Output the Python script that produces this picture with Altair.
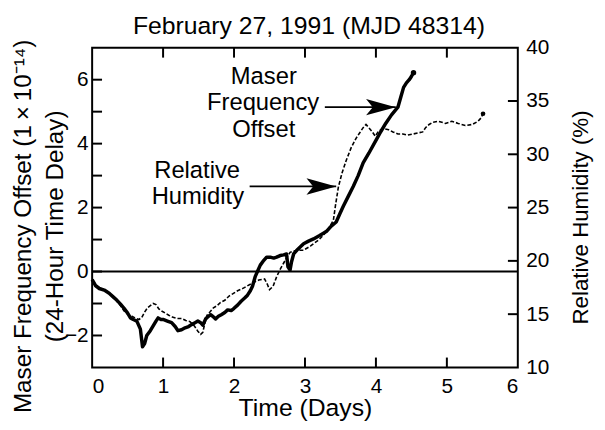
import altair as alt
import pandas as pd

# ---------------- data ----------------
maser_t = [0.00, 0.05, 0.10, 0.17, 0.24, 0.30, 0.35, 0.40, 0.45, 0.50, 0.54, 0.58, 0.63, 0.68,
           0.71, 0.74, 0.77, 0.82, 0.86, 0.90, 0.93, 0.97, 1.00, 1.06, 1.12, 1.17, 1.21, 1.26,
           1.31, 1.36, 1.40, 1.45, 1.49, 1.53, 1.56, 1.60, 1.64, 1.67, 1.71, 1.74, 1.78, 1.82,
           1.87, 1.91, 1.96, 2.00, 2.05, 2.10, 2.15, 2.19, 2.23, 2.26, 2.30, 2.33, 2.37, 2.42,
           2.46, 2.51, 2.56, 2.60, 2.65, 2.70, 2.74, 2.76, 2.79, 2.81, 2.84, 2.90, 2.98, 3.05,
           3.12, 3.20, 3.26, 3.31, 3.37, 3.44, 3.49, 3.54, 3.61, 3.68, 3.75, 3.82, 3.90, 4.00,
           4.07, 4.14, 4.22, 4.31, 4.35, 4.39, 4.43, 4.47, 4.50, 4.53]
maser_v = [-0.25, -0.45, -0.53, -0.58, -0.68, -0.80, -0.90, -1.02, -1.15, -1.30, -1.45, -1.50,
           -1.55, -1.80, -2.35, -2.25, -2.00, -1.85, -1.70, -1.55, -1.45, -1.50, -1.50, -1.55,
           -1.60, -1.72, -1.85, -1.82, -1.76, -1.72, -1.66, -1.60, -1.55, -1.60, -1.68, -1.48,
           -1.40, -1.35, -1.42, -1.48, -1.40, -1.35, -1.28, -1.20, -1.22, -1.15, -1.05, -0.93,
           -0.83, -0.74, -0.60, -0.46, -0.15, 0.00, 0.20, 0.35, 0.45, 0.45, 0.42, 0.45, 0.50,
           0.52, 0.55, 0.15, 0.05, 0.30, 0.55, 0.70, 0.87, 0.95, 1.02, 1.12, 1.20, 1.27, 1.42,
           1.55, 1.80, 2.04, 2.35, 2.66, 3.00, 3.40, 3.70, 4.10, 4.38, 4.64, 4.90, 5.14, 5.45,
           5.76, 5.90, 6.00, 6.10, 6.22]

hum_t = [0.00, 0.05, 0.10, 0.17, 0.24, 0.30, 0.35, 0.40, 0.45, 0.50, 0.56, 0.62, 0.66, 0.70,
         0.74, 0.78, 0.82, 0.86, 0.90, 0.94, 0.98, 1.03, 1.08, 1.14, 1.20, 1.26, 1.32, 1.38,
         1.44, 1.49, 1.53, 1.56, 1.59, 1.62, 1.66, 1.71, 1.76, 1.81, 1.87, 1.93, 1.98, 2.05,
         2.12, 2.20, 2.28, 2.35, 2.43, 2.47, 2.50, 2.55, 2.60, 2.65, 2.70, 2.75, 2.79, 2.88,
         2.98, 3.08, 3.20, 3.27, 3.33, 3.40, 3.43, 3.47, 3.52, 3.58, 3.65, 3.72, 3.77, 3.82,
         3.86, 3.90, 3.95, 3.99, 4.04, 4.11, 4.18, 4.24, 4.31, 4.38, 4.45, 4.52, 4.59, 4.66,
         4.70, 4.75, 4.80, 4.88, 4.98, 5.07, 5.16, 5.26, 5.36, 5.44, 5.48, 5.51]
hum_v = [18.1, 17.8, 17.5, 17.3, 17.0, 16.6, 16.2, 15.8, 15.3, 15.0, 14.8, 14.6, 14.5, 14.7,
         15.2, 15.6, 15.8, 16.0, 15.9, 15.5, 15.3, 15.1, 14.9, 14.7, 14.6, 14.6, 14.4, 14.3,
         13.9, 13.4, 13.1, 13.3, 14.2, 14.9, 15.2, 15.6, 15.8, 16.1, 16.3, 16.7, 16.9, 17.2,
         17.4, 17.7, 18.0, 18.2, 18.3, 17.8, 17.3, 17.6, 18.5, 19.2, 19.8, 20.4, 20.8, 21.0,
         21.0, 21.4, 22.0, 22.5, 23.0, 23.8, 25.2, 26.9, 28.2, 29.4, 30.6, 31.5, 32.0, 32.5,
         32.8, 32.5, 32.1, 31.7, 32.2, 32.4, 32.3, 32.1, 31.9, 31.9, 31.8, 31.9, 32.0, 32.1,
         32.5, 32.8, 33.0, 33.1, 32.9, 33.1, 32.9, 32.7, 32.8, 33.1, 33.4, 33.8]

x_labels = [0, 1, 2, 3, 4, 5, 6]
x_ticks = [1, 2, 3, 4, 5]
left_labels = [-2, 0, 2, 4, 6]
left_ticks = [-2, -1, 0, 1, 2, 3, 4, 5, 6]
right_labels = [10, 15, 20, 25, 30, 35, 40]
right_ticks = [15, 20, 25, 30, 35]
zero_level = [0]

title_text = ["February 27, 1991 (MJD 48314)"]
ann_text = ["Maser", "Frequency", "Offset", "Relative", "Humidity"]
ann_t = [2.42, 2.41, 2.42, 1.48, 1.49]
ann_v = [6.07, 5.26, 4.43, 3.13, 2.32]

arrow_t1 = [3.28, 2.22]
arrow_t2 = [4.28, 3.44]
arrow_v = [5.14, 2.66]

# ---------------- chart ----------------
W, H = 430, 323
FONT = "Liberation Sans"
TL = 10  # tick length (px)

maser = pd.DataFrame({"t": maser_t, "v": maser_v})
hum = pd.DataFrame({"t": hum_t, "h": hum_v})
ann = pd.DataFrame({"text": ann_text, "t": ann_t, "v": ann_v})
arrows = pd.DataFrame({"t1": arrow_t1, "t2": arrow_t2, "v": arrow_v})

xs = alt.Scale(domain=[0, 6], nice=False, zero=False)
ly = alt.Scale(domain=[-3, 7], nice=False, zero=False)
ry = alt.Scale(domain=[10, 40], nice=False, zero=False)

x_axis = alt.Axis(values=x_labels, ticks=False, tickSize=0, domain=False, grid=False,
                  labelFontSize=21, labelPadding=8, format="d", labelFont=FONT,
                  title="Time (Days)", titleFontSize=25, titlePadding=0, titleFont=FONT,
                  titleFontWeight="normal", labelColor="black", titleColor="black")
left_axis = alt.Axis(values=left_labels, ticks=False, tickSize=0, domain=False, grid=False,
                     labelFontSize=21, labelPadding=4, format="d", labelFont=FONT,
                     title=["Maser Frequency Offset (1\u2009×\u200910⁻¹⁴)", "(24-Hour Time Delay)"],
                     titleFontSize=24.5, titleLineHeight=32, titleFont=FONT,
                     titleX=-57, titleY=180,
                     titleFontWeight="normal", labelColor="black", titleColor="black")
right_axis = alt.Axis(orient="right", values=right_labels, ticks=False, tickSize=0,
                      domain=False, grid=False, labelFontSize=21, labelPadding=8, format="d",
                      labelFont=FONT, title="Relative Humidity (%)", titleFontSize=22.5,
                      titleAngle=270, titleBaseline="top", titleX=52, titleY=171,
                      titleFont=FONT,
                      titleFontWeight="normal", labelColor="black", titleColor="black")

maser_line = alt.Chart(maser).mark_line(color="black", strokeWidth=3.5, strokeJoin="round").encode(
    x=alt.X("t:Q", scale=xs, axis=x_axis),
    y=alt.Y("v:Q", scale=ly, axis=left_axis),
)
maser_end = alt.Chart(maser.tail(1)).mark_circle(color="black", size=30, opacity=1).encode(
    x=alt.X("t:Q", scale=xs), y=alt.Y("v:Q", scale=ly))

zero_rule = alt.Chart(pd.DataFrame({"v": zero_level})).mark_rule(color="black", strokeWidth=2).encode(
    y=alt.Y("v:Q", scale=ly), x=alt.value(0), x2=alt.value(W))

lt = alt.Chart(pd.DataFrame({"v": left_ticks})).mark_rule(color="black", strokeWidth=2).encode(
    y=alt.Y("v:Q", scale=ly), x=alt.value(0), x2=alt.value(TL))

xt_df = pd.DataFrame({"t": x_ticks})
bt = alt.Chart(xt_df).mark_rule(color="black", strokeWidth=2).encode(
    x=alt.X("t:Q", scale=xs), y=alt.value(H), y2=alt.value(H - TL))
tt = alt.Chart(xt_df).mark_rule(color="black", strokeWidth=2).encode(
    x=alt.X("t:Q", scale=xs), y=alt.value(0), y2=alt.value(TL))

texts = alt.Chart(ann).mark_text(font=FONT, fontSize=24, color="black", baseline="middle",
                                 align="center").encode(
    x=alt.X("t:Q", scale=xs), y=alt.Y("v:Q", scale=ly), text="text:N")

title_mark = alt.Chart(pd.DataFrame({"text": title_text})).mark_text(
    font=FONT, fontSize=25, color="black", baseline="alphabetic", align="center").encode(
    x=alt.value(W / 2 + 4), y=alt.value(-14), text="text:N")

shafts = alt.Chart(arrows).mark_rule(color="black", strokeWidth=1.8).encode(
    x=alt.X("t1:Q", scale=xs), x2="t2:Q", y=alt.Y("v:Q", scale=ly))

heads = alt.Chart(arrows).mark_point(
    shape="M0,0 L-2,-0.55 L-1.55,0 L-2,0.55 Z", size=900, filled=True,
    color="black", opacity=1, strokeWidth=0).encode(
    x=alt.X("t2:Q", scale=xs), y=alt.Y("v:Q", scale=ly))

left_group = alt.layer(maser_line, maser_end, zero_rule, lt, bt, tt, texts, shafts, heads,
                       title_mark)

hum_line = alt.Chart(hum).mark_line(color="black", strokeWidth=1.6, strokeDash=[4, 2]).encode(
    x=alt.X("t:Q", scale=xs),
    y=alt.Y("h:Q", scale=ry, axis=right_axis),
)
hum_end = alt.Chart(hum.tail(1)).mark_circle(color="black", size=22, opacity=1).encode(
    x=alt.X("t:Q", scale=xs), y=alt.Y("h:Q", scale=ry))
rt = alt.Chart(pd.DataFrame({"h": right_ticks})).mark_rule(color="black", strokeWidth=2).encode(
    y=alt.Y("h:Q", scale=ry), x=alt.value(W - TL), x2=alt.value(W))

right_group = alt.layer(hum_line, hum_end, rt)

chart = alt.layer(left_group, right_group).resolve_scale(y="independent").properties(
    width=W, height=H,
    autosize=alt.AutoSizeParams(type="none"),
    padding={"left": 85, "top": 38, "right": 80, "bottom": 55},
).configure_view(stroke="black", strokeWidth=2).configure_axis(
    labelFont=FONT, titleFont=FONT, labelColor="black", titleColor="black",
    titleFontWeight="normal",
)

chart.save("out.html", embed_options={"renderer": "svg", "actions": False})
